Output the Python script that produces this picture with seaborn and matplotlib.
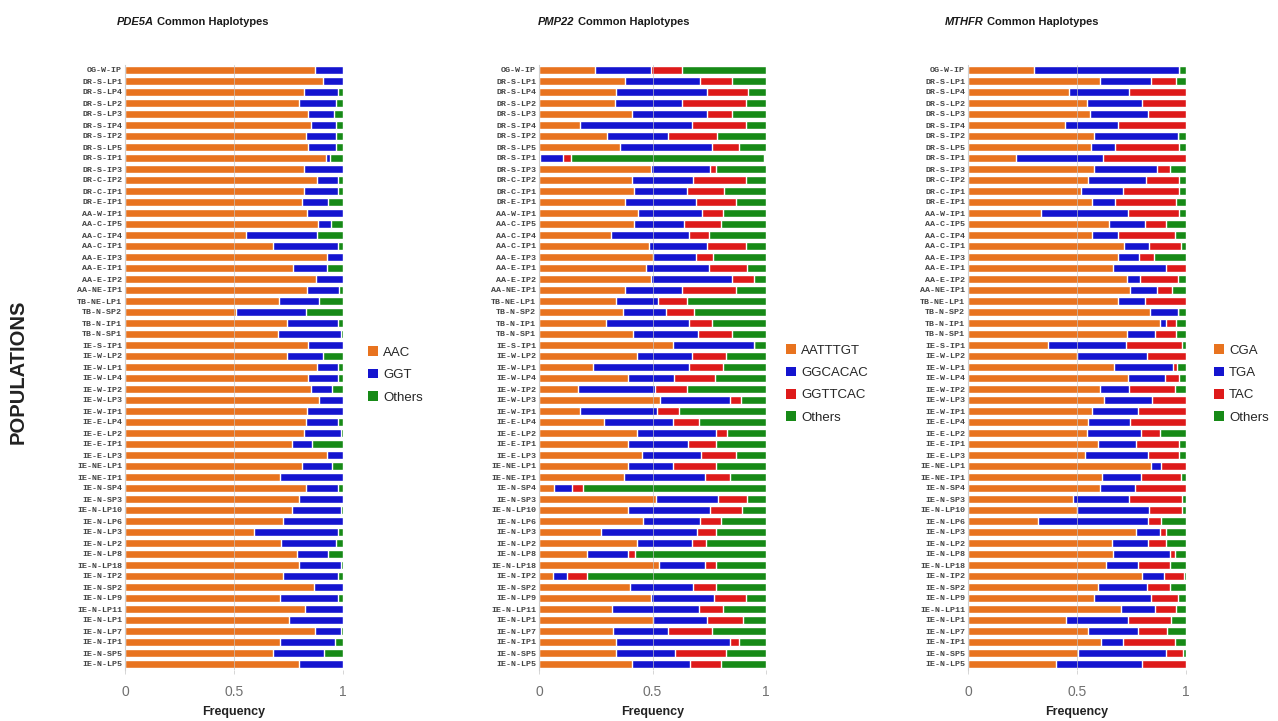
import numpy as np
import pandas as pd
import matplotlib
matplotlib.use("Agg")
import matplotlib.pyplot as plt
import seaborn as sns
from matplotlib.patches import Patch

populations = [
    "OG-W-IP", "DR-S-LP1", "DR-S-LP4", "DR-S-LP2", "DR-S-LP3", "DR-S-IP4", "DR-S-IP2",
    "DR-S-LP5", "DR-S-IP1", "DR-S-IP3", "DR-C-IP2", "DR-C-IP1", "DR-E-IP1", "AA-W-IP1",
    "AA-C-IP5", "AA-C-IP4", "AA-C-IP1", "AA-E-IP3", "AA-E-IP1", "AA-E-IP2", "AA-NE-IP1",
    "TB-NE-LP1", "TB-N-SP2", "TB-N-IP1", "TB-N-SP1", "IE-S-IP1", "IE-W-LP2", "IE-W-LP1",
    "IE-W-LP4", "IE-W-IP2", "IE-W-LP3", "IE-W-IP1", "IE-E-LP4", "IE-E-LP2", "IE-E-IP1",
    "IE-E-LP3", "IE-NE-LP1", "IE-NE-IP1", "IE-N-SP4", "IE-N-SP3", "IE-N-LP10", "IE-N-LP6",
    "IE-N-LP3", "IE-N-LP2", "IE-N-LP8", "IE-N-LP18", "IE-N-IP2", "IE-N-SP2", "IE-N-LP9",
    "IE-N-LP11", "IE-N-LP1", "IE-N-LP7", "IE-N-IP1", "IE-N-SP5", "IE-N-LP5",
]

# ---------------- PDE5A ----------------
pde5a_names = ["AAC", "GGT", "Others"]
pde5a_aac = [.87, .91, .82, .80, .84, .855, .83, .84, .92, .82, .88, .82, .81, .835,
             .885, .555, .68, .925, .77, .875, .835, .705, .51, .745, .70, .84, .745, .88,
             .84, .855, .89, .835, .83, .82, .765, .925, .81, .71, .83, .80, .765, .725,
             .59, .715, .79, .80, .725, .865, .71, .825, .75, .87, .71, .68, .80]
pde5a_ggt = [.13, .09, .155, .17, .12, .115, .14, .13, .02, .18, .095, .155, .12, .165,
             .06, .325, .295, .075, .155, .125, .145, .185, .32, .23, .29, .16, .165, .095,
             .135, .095, .11, .165, .145, .17, .095, .075, .14, .29, .145, .20, .225, .275,
             .385, .255, .14, .19, .25, .135, .265, .175, .25, .12, .255, .235, .20]
pde5a_oth = [0, 0, .025, .03, .04, .03, .03, .03, .06, 0, .025, .025, .07, 0,
             .055, .12, .025, 0, .075, 0, .02, .11, .17, .025, .01, 0, .09, .025,
             .025, .05, 0, 0, .025, .01, .14, 0, .05, 0, .025, 0, .01, 0,
             .025, .03, .07, .01, .025, 0, .025, 0, 0, .01, .035, .085, 0]

# ---------------- PMP22 ----------------
pmp22_names = ["AATTTGT", "GGCACAC", "GGTTCAC", "Others"]
pmp22_aatttgt = [.245, .38, .34, .335, .41, .18, .30, .355, .005, .495, .41, .42, .38, .435,
                 .42, .315, .485, .50, .47, .495, .38, .34, .37, .295, .415, .59, .43, .24,
                 .39, .17, .535, .18, .285, .43, .39, .455, .39, .375, .065, .515, .39, .46,
                 .275, .43, .21, .53, .06, .40, .495, .32, .50, .325, .34, .34, .41]
pmp22_ggcacac = [.25, .33, .40, .295, .33, .495, .27, .405, .10, .26, .27, .23, .31, .285,
                 .22, .345, .255, .19, .28, .355, .25, .185, .19, .365, .285, .355, .245, .42,
                 .205, .34, .305, .34, .305, .35, .265, .26, .20, .355, .08, .275, .365, .25,
                 .42, .245, .18, .20, .065, .28, .275, .385, .24, .245, .50, .26, .255]
pmp22_ggttcac = [.135, .14, .18, .28, .11, .235, .215, .12, .035, .025, .23, .165, .18, .09,
                 .16, .09, .17, .075, .165, .095, .24, .125, .125, .10, .15, 0, .15, .15,
                 .18, .14, .05, .095, .115, .05, .125, .155, .19, .11, .05, .125, .14, .09,
                 .085, .06, .035, .05, .085, .10, .14, .105, .16, .19, .04, .225, .135]
pmp22_oth = [.37, .15, .08, .09, .15, .09, .215, .12, .85, .22, .09, .185, .13, .19,
             .20, .25, .09, .235, .085, .055, .13, .35, .315, .24, .15, .055, .175, .19,
             .225, .35, .11, .385, .295, .17, .22, .13, .22, .16, .805, .085, .105, .20,
             .22, .265, .575, .22, .79, .22, .09, .19, .10, .24, .12, .175, .20]

# ---------------- MTHFR ----------------
mthfr_names = ["CGA", "TGA", "TAC", "Others"]
mthfr_cga = [.305, .605, .465, .545, .56, .445, .58, .565, .22, .58, .55, .52, .57, .335,
             .645, .57, .715, .69, .665, .73, .745, .69, .835, .88, .73, .365, .50, .67,
             .735, .605, .625, .57, .55, .545, .595, .535, .84, .615, .605, .48, .50, .32,
             .77, .66, .665, .635, .80, .595, .58, .70, .45, .55, .61, .505, .405]
mthfr_tga = [.665, .235, .275, .255, .265, .245, .385, .11, .40, .285, .265, .19, .105, .40,
             .165, .12, .115, .095, .245, .06, .12, .12, .13, .03, .13, .36, .32, .27,
             .17, .135, .22, .21, .195, .25, .175, .29, .045, .18, .16, .26, .33, .505,
             .11, .165, .26, .145, .10, .225, .26, .16, .285, .23, .10, .405, .395]
mthfr_tac = [0, .115, .26, .20, .175, .31, 0, .295, .38, .06, .155, .26, .28, .235,
             .10, .26, .145, .07, .09, .175, .07, .19, 0, .045, .095, .255, .18, .02,
             .065, .21, .155, .22, .255, .085, .20, .145, .115, .18, .235, .24, .15, .06,
             .03, .085, .025, .145, .09, .105, .125, .095, .195, .135, .24, .075, .20]
mthfr_oth = [.03, .045, 0, 0, 0, 0, .035, .03, 0, .075, .03, .03, .045, .03,
             .09, .05, .025, .145, 0, .035, .065, 0, .035, .045, .045, .02, 0, .04,
             .03, .05, 0, 0, 0, .12, .03, .03, 0, .025, 0, .02, .02, .115,
             .09, .09, .05, .075, .01, .075, .035, .045, .07, .085, .05, .015, 0]

ORANGE, BLUE, RED, GREEN = "#E8731F", "#1414CF", "#DE1A1A", "#178A17"

sns.set_theme(style="white")
plt.rcParams["font.family"] = ["Liberation Sans", "DejaVu Sans"]

W, H = 1278, 721
fig = plt.figure(figsize=(W / 100, H / 100), dpi=100)
fig.patch.set_facecolor("white")


def fx(px):
    return px / W


def fy(py):
    return 1 - py / H


top_px, bot_px = 64.5, 669.5

panels = [
    dict(gene="PDE5A", x0=125, x1=343, names=pde5a_names,
         series=[pde5a_aac, pde5a_ggt, pde5a_oth], colors=[ORANGE, BLUE, GREEN],
         leg=(368, 375), title_x=117),
    dict(gene="PMP22", x0=539, x1=766, names=pmp22_names,
         series=[pmp22_aatttgt, pmp22_ggcacac, pmp22_ggttcac, pmp22_oth],
         colors=[ORANGE, BLUE, RED, GREEN], leg=(786, 384), title_x=538),
    dict(gene="MTHFR", x0=968, x1=1186, names=mthfr_names,
         series=[mthfr_cga, mthfr_tga, mthfr_tac, mthfr_oth],
         colors=[ORANGE, BLUE, RED, GREEN], leg=(1214, 384), title_x=945),
]

renderer = fig.canvas.get_renderer()

for p in panels:
    ax = fig.add_axes([fx(p["x0"]), fy(bot_px), fx(p["x1"] - p["x0"]), (bot_px - top_px) / H])
    vals = np.array(p["series"], dtype=float)
    cum = np.cumsum(vals, axis=0)
    for k in range(len(p["names"]) - 1, -1, -1):
        df = pd.DataFrame({"Population": populations, "Frequency": cum[k]})
        sns.barplot(data=df, x="Frequency", y="Population", order=populations, orient="h",
                    color=p["colors"][k], saturation=1, width=0.68, errorbar=None,
                    ax=ax, zorder=2)
    ax.axvline(0.5, color="#c4c4c4", lw=0.6, zorder=3, alpha=0.8)
    ax.set_xlim(0, 1)
    ax.set_xticks([0, 0.5, 1])
    ax.set_xticklabels(["0", "0.5", "1"])
    ax.tick_params(axis="x", length=3, width=0.6, color="#d0d0d0", pad=8,
                   labelsize=10, labelcolor="#707070", bottom=True)
    ax.tick_params(axis="y", length=0, pad=2)
    for t in ax.get_yticklabels():
        t.set_fontfamily("Liberation Mono")
        t.set_fontweight("bold")
        t.set_fontsize(6)
        t.set_color("#444444")
    for s in ["top", "right", "bottom"]:
        ax.spines[s].set_visible(False)
    ax.spines["left"].set_color("#d0d0d0")
    ax.spines["left"].set_linewidth(0.8)
    ax.set_ylabel("")
    ax.set_xlabel("Frequency", fontsize=9, fontweight="bold", color="#222222", labelpad=5)

    handles = [Patch(facecolor=c, edgecolor="none") for c in p["colors"]]
    fig.legend(handles, p["names"], loc="center left",
               bbox_to_anchor=(fx(p["leg"][0]), fy(p["leg"][1])), bbox_transform=fig.transFigure,
               frameon=False, fontsize=9.5, handlelength=0.75, handleheight=0.75,
               handletextpad=0.4, labelspacing=0.75, borderpad=0, borderaxespad=0)

    tg = fig.text(fx(p["title_x"]), fy(22), p["gene"], fontsize=8, fontweight="bold",
                  fontstyle="italic", ha="left", va="center", color="#1a1a1a")
    bb = tg.get_window_extent(renderer=renderer)
    fig.text(fx(bb.x1 + 3), fy(22), "Common Haplotypes", fontsize=8, fontweight="bold",
             ha="left", va="center", color="#1a1a1a")

fig.text(fx(18), fy(372), "POPULATIONS", rotation=90, fontsize=14.5, fontweight="bold",
         ha="center", va="center", color="#222222")

fig.savefig("out.png", dpi=100, facecolor="white")
